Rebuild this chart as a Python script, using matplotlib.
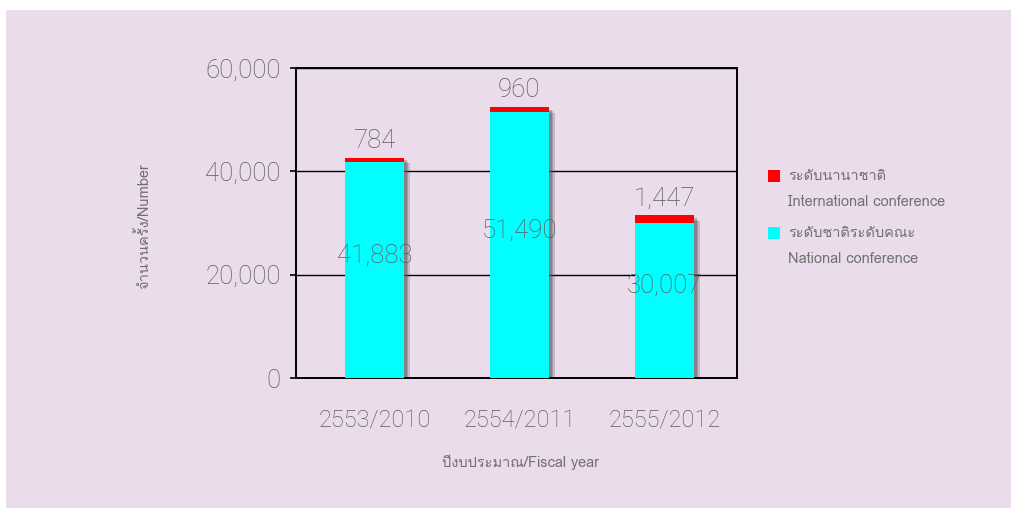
import matplotlib
matplotlib.use('Agg')
import matplotlib.pyplot as plt
import matplotlib.patheffects as pe
from matplotlib import font_manager as fm
from matplotlib.ft2font import FT2Font
from matplotlib.patches import Rectangle
import numpy as np

# --- data
years = ['2553/2010', '2554/2011', '2555/2012']
national = [41883, 51490, 30007]
international = [784, 960, 1447]
yticks = [0, 20000, 40000, 60000]

legend_thai = ['ระดับนานาชาติ', 'ระดับชาติระดับคณะ']
legend_eng = ['International conference', 'National conference']
ylabel = 'จำนวนครั้ง/Number'
xlabel = 'ปีงบประมาณ/Fiscal year'


# find an installed font that has thai glyphs
def thai_family():
    for f in fm.fontManager.ttflist:
        try:
            if 0x0E14 in FT2Font(f.fname).get_charmap():
                return f.name
        except Exception:
            pass
    return 'DejaVu Sans'


thai = [thai_family(), 'DejaVu Sans']
num_font = 'Roboto'

bg = '#eadcea'
grey = '#707070'
num_grey = '#5c5c5c'
cyan = '#00ffff'
red = '#ff0000'

# --- plot
fig = plt.figure(figsize=(10.12, 5.08), dpi=100, facecolor='white')
fig.patches.append(Rectangle((6 / 1012, 0), 1, 1 - 10 / 508, transform=fig.transFigure,
                             facecolor=bg, edgecolor='none', zorder=-10))

ax = fig.add_axes([296 / 1012, 1 - 378 / 508, 441 / 1012, 310 / 508])
ax.set_facecolor(bg)

x = np.arange(len(years))
total = np.array(national) + np.array(international)

# soft shadow behind the whole stack
for k, a in [(4, 0.25), (3, 0.3), (2, 0.35)]:
    ax.bar(x, total, width=0.41, color='none', zorder=2,
           path_effects=[pe.SimplePatchShadow(offset=(k, -k), shadow_rgbFace='#555555', alpha=a)])
ax.bar(x, national, width=0.41, color=cyan, zorder=3)
ax.bar(x, international, width=0.41, bottom=national, color=red, zorder=3)

ax.set_ylim(0, 60000)
ax.set_xlim(-0.54, 2.5)
ax.set_yticks(yticks)
ax.set_yticklabels([f'{v:,}' for v in yticks], fontsize=18.5, color=num_grey,
                   family=num_font, fontweight='light')
ax.set_xticks(x)
ax.set_xticklabels(years, fontsize=17, color=num_grey, family=num_font, fontweight='light')
ax.tick_params(axis='y', length=4, width=1.2, color='black', pad=7)
ax.tick_params(axis='x', length=0, pad=22)
ax.grid(axis='y', color='black', linewidth=1.0, zorder=1)
for s in ax.spines.values():
    s.set_linewidth(1.4)
    s.set_color('black')

# value labels
for i in range(len(years)):
    ax.text(x[i], national[i] / 2 + 2800, f'{national[i]:,}', ha='center', va='center',
            fontsize=18.5, color=num_grey, family=num_font, fontweight='light', zorder=5)
    ax.text(x[i], total[i] + 3200, f'{international[i]:,}',
            ha='center', va='center', fontsize=18.5, color=num_grey, family=num_font,
            fontweight='light', zorder=5)

fig.text(143 / 1012, 1 - 226 / 508, ylabel, rotation=90, ha='center', va='center',
         fontsize=10.5, color=grey, family=thai)
fig.text(521 / 1012, 1 - 462 / 508, xlabel, ha='center', va='center',
         fontsize=10.5, color=grey, family=thai)

# legend
for j, (c, y0) in enumerate([(red, 176), (cyan, 233)]):
    fig.patches.append(Rectangle((768 / 1012, 1 - (y0 + 6) / 508), 12 / 1012, 12 / 508,
                                 transform=fig.transFigure, facecolor=c, edgecolor='none'))
    fig.text(788 / 1012, 1 - y0 / 508, legend_thai[j], ha='left', va='center',
             fontsize=10.5, color=grey, family=thai)
    fig.text(788 / 1012, 1 - (y0 + 26) / 508, legend_eng[j], ha='left', va='center',
             fontsize=10.5, color=grey, family=thai)

fig.savefig('out.png', dpi=100, facecolor=fig.get_facecolor())
